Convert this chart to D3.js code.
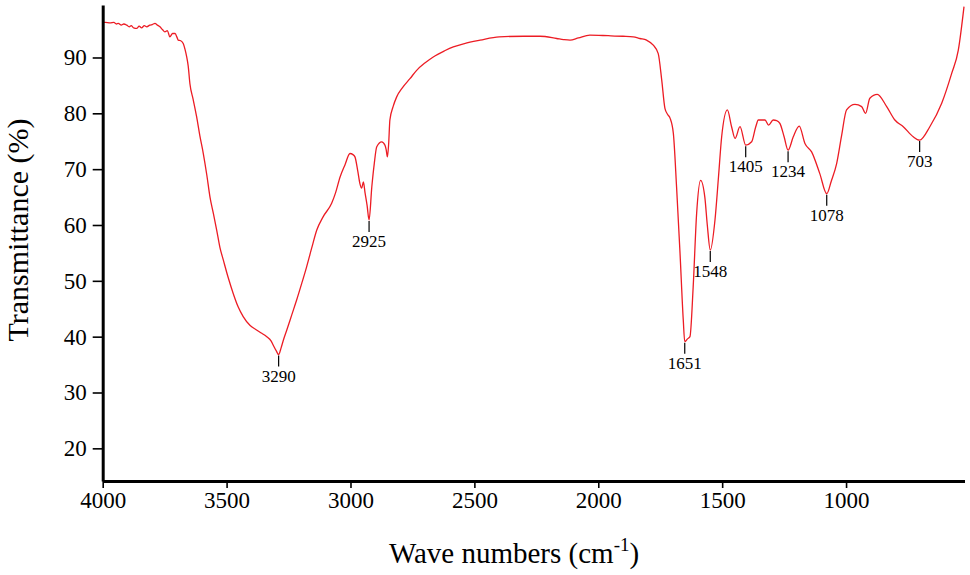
<!DOCTYPE html>
<html><head><meta charset="utf-8">
<script src="https://cdn.jsdelivr.net/npm/d3@7"></script>
<style>
html,body{margin:0;padding:0;background:#fff;}
svg text{font-family:"Liberation Serif","Times New Roman",serif !important;}
</style></head>
<body><svg id="c" width="970" height="575"></svg>
<script>
const wavenumbers = [3999,3990,3970,3955,3945,3937,3925,3915,3903,3893,3885,3875,3863,3853,3843,3832,3822,3810,3800,3789,3779,3769,3759,3749,3739,3729,3718,3708,3700,3695,3685,3675,3668,3661,3655,3648,3635,3621,3608,3594,3580,3567,3553,3540,3527,3513,3493,3473,3453,3433,3405,3379,3358,3338,3320,3312,3300,3290,3280,3270,3257,3237,3217,3197,3177,3157,3136,3110,3076,3060,3042,3022,3002,2990,2982,2970,2962,2955,2948,2941,2933,2925,2914,2904,2894,2874,2861,2856,2851,2846,2841,2828,2814,2790,2760,2733,2700,2666,2620,2585,2540,2477,2400,2300,2235,2168,2140,2114,2080,2034,1960,1900,1859,1832,1805,1778,1758,1744,1731,1720,1710,1697,1684,1670,1657,1651,1640,1630,1617,1603,1587,1570,1560,1548,1529,1515,1502,1479,1462,1448,1428,1405,1381,1365,1354,1327,1313,1294,1280,1267,1250,1234,1213,1189,1166,1139,1106,1078,1060,1038,1018,998,964,937,921,904,874,836,803,769,729,703,662,614,574,547,524];
const transmittance = [96.3,96.3,96.2,96.3,96.0,96.1,95.8,96.0,95.8,95.5,95.7,95.3,95.2,95.6,95.3,95.7,95.5,95.8,95.9,96.1,95.8,95.5,95.0,94.6,94.8,93.7,94.3,94.3,93.6,93.1,93.0,92.5,91.5,90.1,88.5,85.3,82.5,79.4,76.0,72.8,69.0,65.0,62.0,59.1,56.0,53.7,50.5,47.7,45.3,43.6,42.0,41.2,40.6,40.0,39.2,38.5,37.5,36.8,38.0,39.5,41.2,43.9,46.6,49.5,52.5,55.8,59.1,61.5,63.9,65.8,68.6,70.8,72.8,72.6,72.2,69.5,67.4,66.6,67.7,65.7,63.5,60.9,66.8,71.0,74.0,74.9,74.3,73.5,72.2,74.5,78.8,81.2,82.9,84.6,86.2,87.7,89.0,90.1,91.2,91.9,92.5,93.1,93.7,93.8,93.8,93.4,93.2,93.1,93.5,94.0,93.9,93.8,93.7,93.4,93.1,92.2,90.7,86.0,80.9,79.8,79.1,76.4,66.8,54.9,43.0,39.1,39.6,40.0,48.9,62.1,68.0,65.0,60.0,55.5,60.9,68.5,75.8,80.6,77.6,75.5,77.6,74.3,74.9,77.5,78.8,78.8,77.9,78.8,78.7,78.2,75.8,73.4,75.8,77.7,74.6,73.1,69.2,65.6,67.8,71.0,76.0,80.6,81.6,81.2,80.0,82.7,83.4,81.2,78.8,77.6,75.8,75.2,77.6,81.8,87.1,91.3,99.1];
const peakLabels = [3290,2925,1651,1548,1405,1234,1078,703];
const xTicks = [4000,3500,3000,2500,2000,1500,1000];
const yTicks = [20,30,40,50,60,70,80,90];

const FONT = "'Liberation Serif','Times New Roman',serif";
const svg = d3.select("#c");
const x = d3.scaleLinear().domain([4000,522]).range([102.7,964.5]);
const y = d3.scaleLinear().domain([14.15,99.4]).range([481,5]);

const data = wavenumbers.map((w,i)=>({w, t:transmittance[i]}));

svg.append("path").datum(data)
  .attr("fill","none").attr("stroke","#ec1c24").attr("stroke-width",1.3)
  .attr("stroke-linejoin","round")
  .attr("d", d3.line().curve(d3.curveMonotoneX).x(d=>x(d.w)).y(d=>y(d.t)));

// peak labels
peakLabels.forEach(p=>{
  const d = data.reduce((a,b)=>Math.abs(b.w-p)<Math.abs(a.w-p)?b:a);
  const px = x(p), py = y(d.t);
  svg.append("line").attr("x1",px).attr("x2",px).attr("y1",py+1).attr("y2",py+12)
    .attr("stroke","#000").attr("stroke-width",1.2);
  svg.append("text").attr("x",px).attr("y",py+27).attr("text-anchor","middle")
    .style("font-family",FONT).attr("font-size",17).attr("fill","#000").text(p);
});

const gx = svg.append("g").attr("transform","translate(0,481)")
  .call(d3.axisBottom(x).tickValues(xTicks).tickSize(7).tickSizeOuter(0).tickPadding(4).tickFormat(d3.format("d")));
const gy = svg.append("g").attr("transform","translate(102.7,0)")
  .call(d3.axisLeft(y).tickValues(yTicks).tickSize(10).tickSizeOuter(0).tickPadding(6).tickFormat(d3.format("d")));
[gx,gy].forEach(g=>{
  g.attr("font-family",FONT).style("font-family",FONT);
  g.select(".domain").attr("stroke","#000").attr("stroke-width",3);
  g.selectAll(".tick line").attr("stroke","#000").attr("stroke-width",1.6);
  g.selectAll(".tick text").attr("font-size",23).attr("fill","#000")
    .style("font-family",FONT);
});

svg.append("text").attr("transform","translate(28,230) rotate(-90)")
  .attr("text-anchor","middle").attr("font-size",30).attr("fill","#000")
  .style("font-family",FONT).text("Transmittance (%)");
const xt = svg.append("text").attr("x",514).attr("y",563).attr("text-anchor","middle")
  .attr("font-size",29).attr("fill","#000").style("font-family",FONT);
xt.append("tspan").text("Wave numbers (cm");
xt.append("tspan").attr("dy",-12).attr("font-size",19).text("-1");
xt.append("tspan").attr("dy",12).text(")");
</script></body></html>
